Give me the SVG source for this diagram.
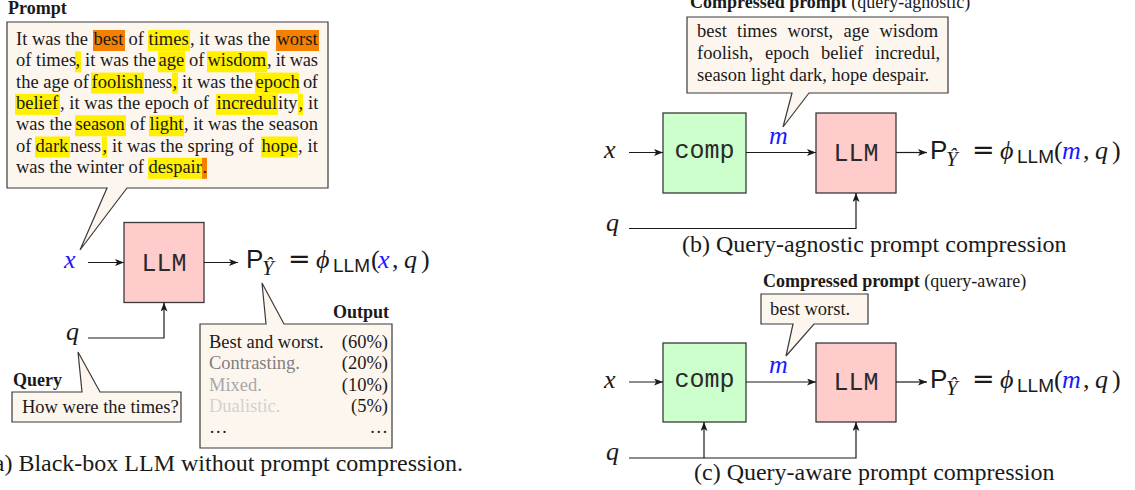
<svg xmlns="http://www.w3.org/2000/svg" width="1135" height="490" viewBox="0 0 1135 490">
<defs>
<style>
.callout{fill:#fdf6ef;stroke:#3a3a3a;stroke-width:1.2}
.box{stroke:#3a3a3a;stroke-width:1.3}
.llm{fill:#ffcccc}
.comp{fill:#ccffcc}
.conn{fill:none;stroke:#1a1a1a;stroke-width:1.2}
.t{font-family:"Liberation Serif","Times New Roman",serif;fill:#1a1a1a}
.pt{font-size:18.5px}
.b{font-weight:bold;font-size:18px}
.r18{font-size:18.5px}
.cap{font-size:24px}
.mono{font-family:"Liberation Mono","Courier New",monospace;font-size:25px;fill:#2a2a2a;text-anchor:middle}
.mi{font-family:"Liberation Serif","DejaVu Serif",serif;font-style:italic;font-size:26px;fill:#1a1a1a}
.rm{font-family:"Liberation Serif","DejaVu Serif",serif;font-size:26px;fill:#1a1a1a}
.eq{font-family:"DejaVu Sans",sans-serif;font-size:27px;fill:#1a1a1a}
.sf{font-family:"Liberation Sans",Arial,sans-serif;font-size:26px;fill:#1a1a1a}
.sfs{font-family:"Liberation Sans",Arial,sans-serif;font-size:19px;fill:#1a1a1a}
.sub{font-family:"Liberation Serif","DejaVu Serif",serif;font-style:italic;font-size:21px;fill:#1a1a1a}
.blue{fill:#1a1aff}
.hy{fill:#fff000}
.ho{fill:#f58000}
</style>
<marker id="arr" viewBox="0 0 9 7" refX="9" refY="3.5" markerWidth="9" markerHeight="7" markerUnits="userSpaceOnUse" orient="auto">
<path d="M0,0 L9,3.5 L0,7 L2.2,3.5 Z" fill="#1a1a1a"/>
</marker>
</defs>
<rect width="1135" height="490" fill="#ffffff"/>

<!-- Panel (a) -->
<g id="prompt">
<text class="t b" x="8" y="14">Prompt</text>
<path class="callout" d="M7,22 H328 V188 H127 L80,250 L107,188 H7 Z"/>
<g id="highlights">
<rect class="ho" x="93" y="30" width="32" height="21"/>
<rect class="hy" x="148" y="30" width="42" height="21"/>
<rect class="ho" x="276" y="30" width="43" height="21"/>
<rect class="hy" x="75" y="51.3" width="6" height="21"/>
<rect class="hy" x="158" y="51.3" width="27" height="21"/>
<rect class="hy" x="207" y="51.3" width="60" height="21"/>
<rect class="hy" x="91" y="72.6" width="53" height="21"/>
<rect class="hy" x="172" y="72.6" width="6" height="21"/>
<rect class="hy" x="255" y="72.6" width="44" height="21"/>
<rect class="hy" x="15" y="93.9" width="45" height="21"/>
<rect class="hy" x="216" y="93.9" width="62" height="21"/>
<rect class="hy" x="298" y="93.9" width="5" height="21"/>
<rect class="hy" x="75" y="115.2" width="51" height="21"/>
<rect class="hy" x="149" y="115.2" width="35" height="21"/>
<rect class="hy" x="35" y="136.5" width="35" height="21"/>
<rect class="hy" x="102" y="136.5" width="5" height="21"/>
<rect class="hy" x="261" y="136.5" width="37" height="21"/>
<rect class="hy" x="148" y="157.8" width="54" height="21"/>
<rect class="ho" x="202" y="157.8" width="5" height="21"/>
</g>
<text class="t pt" y="45"><tspan x="16">It was the</tspan><tspan x="93.5">best</tspan><tspan x="128.5">of</tspan><tspan x="148.5">times</tspan><tspan x="190">, it was the</tspan><tspan x="276.5">worst</tspan></text>
<text class="t pt" y="66.3"><tspan x="16">of times</tspan><tspan x="75.5">,</tspan><tspan x="85">it was the</tspan><tspan x="158.5">age</tspan><tspan x="189">of</tspan><tspan x="207.5">wisdom</tspan><tspan x="267" textLength="51" lengthAdjust="spacing">, it was</tspan></text>
<text class="t pt" y="87.6"><tspan x="16">the age of</tspan><tspan x="91.5">foolish</tspan><tspan x="144" textLength="28" lengthAdjust="spacingAndGlyphs">ness</tspan><tspan x="172.5">,</tspan><tspan x="182">it was the</tspan><tspan x="255.5">epoch</tspan><tspan x="303" textLength="15" lengthAdjust="spacing">of</tspan></text>
<text class="t pt" y="108.9"><tspan x="16">belief</tspan><tspan x="60">, it was the epoch of</tspan><tspan x="216.5">incredul</tspan><tspan x="278">ity</tspan><tspan x="298.5">,</tspan><tspan x="308">it</tspan></text>
<text class="t pt" y="130.2"><tspan x="16">was the</tspan><tspan x="75.5">season</tspan><tspan x="130">of</tspan><tspan x="149.5">light</tspan><tspan x="184" textLength="134" lengthAdjust="spacing">, it was the season</tspan></text>
<text class="t pt" y="151.5"><tspan x="16">of</tspan><tspan x="35.5">dark</tspan><tspan x="70" textLength="31" lengthAdjust="spacingAndGlyphs">ness</tspan><tspan x="102.5">,</tspan><tspan x="112">it was the spring of</tspan><tspan x="261.5">hope</tspan><tspan x="298" textLength="20" lengthAdjust="spacing">, it</tspan></text>
<text class="t pt" y="172.8"><tspan x="16">was the winter of</tspan><tspan x="148.5">despair</tspan><tspan x="202.5">.</tspan></text>
</g>

<g id="x-a"><text class="mi blue" x="64" y="268">x</text></g>
<g id="q-a"><text class="mi" x="66" y="340">q</text></g>
<g id="llm-a">
<rect class="box llm" x="124" y="222.5" width="80" height="80"/>
<text class="mono" x="164" y="270.5">LLM</text>
</g>
<g id="out-a">
<text class="sf" x="246" y="268">P</text>
<text class="sub" x="262" y="275">Ŷ</text>
<text class="eq" x="288" y="268">=</text>
<text class="mi" x="316" y="268">ϕ</text>
<text class="sfs" x="333" y="272">LLM</text>
<text class="rm" x="371" y="268">(</text>
<text class="mi blue" x="378" y="268">x</text>
<text class="rm" x="392" y="268">,</text>
<text class="mi" x="404" y="268">q</text>
<text class="rm" x="421" y="268">)</text>
</g>
<g id="query">
<text class="t b" x="13" y="386">Query</text>
<path class="callout" d="M12,392 H82 L78,352 L100,392 H181 V422 H12 Z"/>
<text class="t r18" x="22" y="413">How were the times?</text>
</g>
<g id="output">
<text class="t b" x="333" y="318">Output</text>
<path class="callout" d="M200,324 H266 L262,283 L284,324 H392 V448 H200 Z"/>
<text class="t r18" x="209" y="348">Best and worst.</text>
<text class="t r18" x="209" y="369.3" style="fill:#808080">Contrasting.</text>
<text class="t r18" x="209" y="390.6" style="fill:#a8a8a8">Mixed.</text>
<text class="t r18" x="209" y="411.9" style="fill:#d2d2d2">Dualistic.</text>
<text class="t r18" x="209" y="433">…</text>
<g text-anchor="end">
<text class="t r18" x="388" y="348">(60%)</text>
<text class="t r18" x="388" y="369.3">(20%)</text>
<text class="t r18" x="388" y="390.6">(10%)</text>
<text class="t r18" x="388" y="411.9">(5%)</text>
<text class="t r18" x="388" y="433">…</text>
</g>
</g>
<g id="caption-a"><text class="t cap" x="463" y="471" text-anchor="end">(a) Black-box LLM without prompt compression.</text></g>

<!-- Panel (b) -->
<g id="cprompt-b">
<text class="t" x="690" y="8" style="font-size:18px"><tspan font-weight="bold">Compressed prompt</tspan> (query-agnostic)</text>
<path class="callout" d="M687,17 H948 V93 H809 L783,127 L792,93 H687 Z"/>
<text class="t r18" y="37"><tspan x="697">best</tspan><tspan x="737">times</tspan><tspan x="787.5">worst,</tspan><tspan x="843.5">age</tspan><tspan x="879.5">wisdom</tspan></text>
<text class="t r18" y="59"><tspan x="697">foolish,</tspan><tspan x="765">epoch</tspan><tspan x="821">belief</tspan><tspan x="875">incredul,</tspan></text>
<text class="t r18" x="697" y="81">season light dark, hope despair.</text>
</g>
<g id="x-b"><text class="mi" x="604" y="158">x</text></g>
<g id="q-b"><text class="mi" x="606" y="231">q</text></g>
<g id="comp-b">
<rect class="box comp" x="663" y="113" width="83" height="80"/>
<text class="mono" x="704.5" y="158">comp</text>
</g>
<g id="m-b"><text class="mi blue" x="769" y="144">m</text></g>
<g id="llm-b">
<rect class="box llm" x="816" y="113" width="80" height="80"/>
<text class="mono" x="856" y="161">LLM</text>
</g>
<g id="out-b">
<text class="sf" x="930" y="159">P</text>
<text class="sub" x="946" y="166">Ŷ</text>
<text class="eq" x="972" y="159">=</text>
<text class="mi" x="1000" y="159">ϕ</text>
<text class="sfs" x="1017" y="163">LLM</text>
<text class="rm" x="1054" y="159">(</text>
<text class="mi blue" x="1062" y="159">m</text>
<text class="rm" x="1083" y="159">,</text>
<text class="mi" x="1095" y="159">q</text>
<text class="rm" x="1112" y="159">)</text>
</g>
<g id="caption-b"><text class="t cap" x="682" y="252">(b) Query-agnostic prompt compression</text></g>

<!-- Panel (c) -->
<g id="cprompt-c">
<text class="t" x="763" y="287" style="font-size:18px"><tspan font-weight="bold">Compressed prompt</tspan> (query-aware)</text>
<path class="callout" d="M761,294 H868 V324 H814 L786,356 L793,324 H761 Z"/>
<text class="t r18" x="770" y="315">best worst.</text>
</g>
<g id="x-c"><text class="mi" x="604" y="387.5">x</text></g>
<g id="q-c"><text class="mi" x="606" y="460">q</text></g>
<g id="comp-c">
<rect class="box comp" x="663" y="343" width="83" height="79"/>
<text class="mono" x="704.5" y="387">comp</text>
</g>
<g id="m-c"><text class="mi blue" x="769" y="373">m</text></g>
<g id="llm-c">
<rect class="box llm" x="816" y="343" width="80" height="79"/>
<text class="mono" x="856" y="390">LLM</text>
</g>
<g id="out-c">
<text class="sf" x="930" y="388">P</text>
<text class="sub" x="946" y="395">Ŷ</text>
<text class="eq" x="972" y="388">=</text>
<text class="mi" x="1000" y="388">ϕ</text>
<text class="sfs" x="1017" y="392">LLM</text>
<text class="rm" x="1054" y="388">(</text>
<text class="mi blue" x="1062" y="388">m</text>
<text class="rm" x="1083" y="388">,</text>
<text class="mi" x="1095" y="388">q</text>
<text class="rm" x="1112" y="388">)</text>
</g>
<g id="caption-c"><text class="t cap" x="694" y="480">(c) Query-aware prompt compression</text></g>

<g id="connectors">
<path class="conn" d="M88,262.5 H124" marker-end="url(#arr)"/>
<path class="conn" d="M204,262.5 H238" marker-end="url(#arr)"/>
<path class="conn" d="M88,338 H164 V302.5" marker-end="url(#arr)"/>
<path class="conn" d="M629,152.5 H663" marker-end="url(#arr)"/>
<path class="conn" d="M746,152.5 H816" marker-end="url(#arr)"/>
<path class="conn" d="M896,152.5 H927" marker-end="url(#arr)"/>
<path class="conn" d="M629,228.5 H856 V193" marker-end="url(#arr)"/>
<path class="conn" d="M629,382 H663" marker-end="url(#arr)"/>
<path class="conn" d="M746,382 H816" marker-end="url(#arr)"/>
<path class="conn" d="M896,382 H927" marker-end="url(#arr)"/>
<path class="conn" d="M629,458 H856 V422" marker-end="url(#arr)"/>
<path class="conn" d="M704,458 V422" marker-end="url(#arr)"/>
</g>
</svg>
